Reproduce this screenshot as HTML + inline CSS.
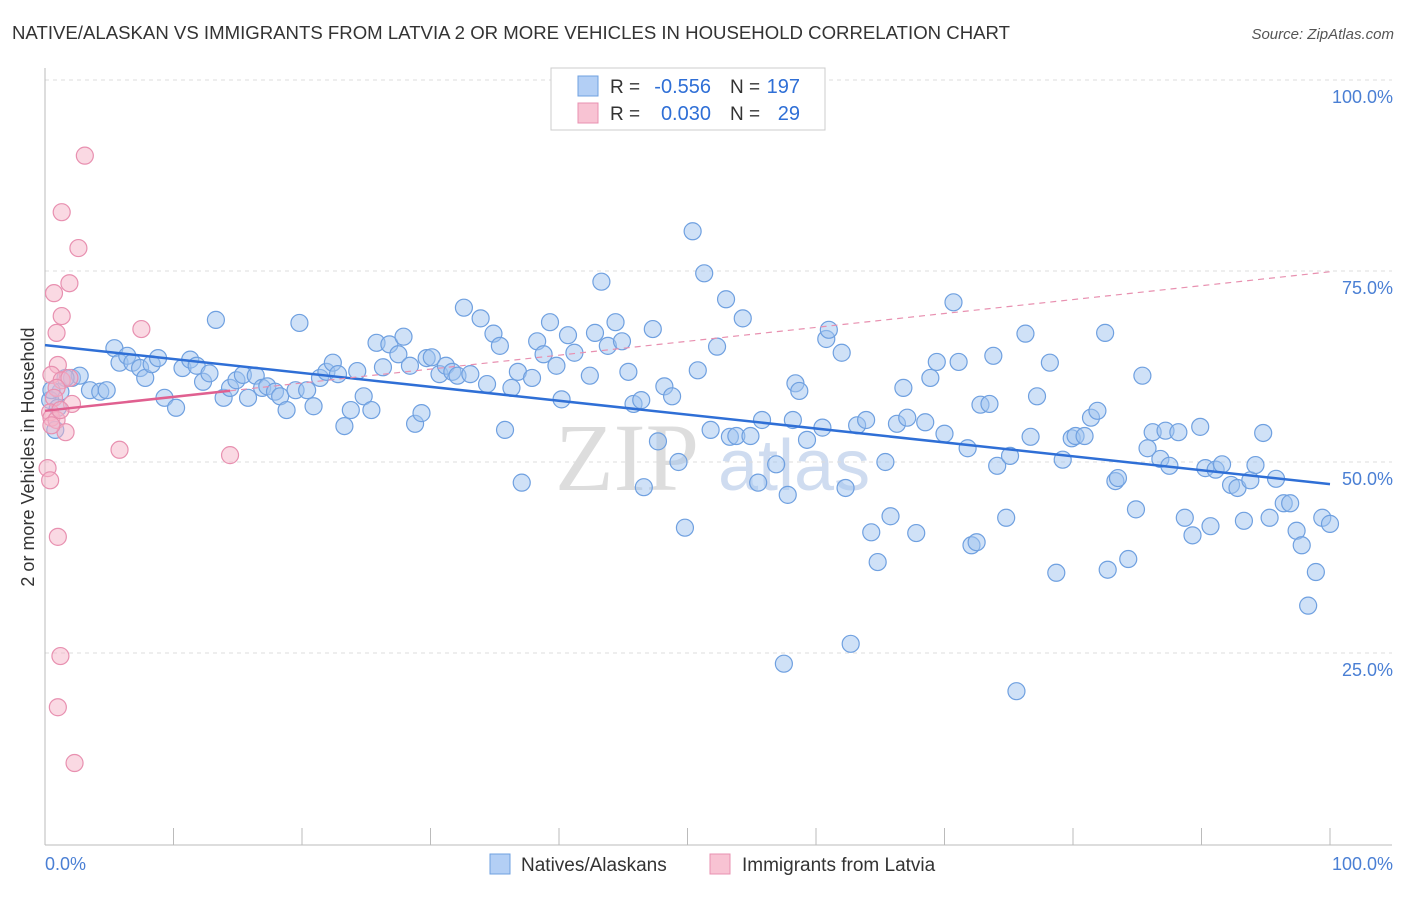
<!DOCTYPE html>
<html><head><meta charset="utf-8"><style>
body{margin:0;background:#fff;font-family:"Liberation Sans",sans-serif;}
</style></head><body>
<svg width="1406" height="892" xmlns="http://www.w3.org/2000/svg" font-family="Liberation Sans, sans-serif">
<text x="12" y="39" font-size="18" fill="#333" textLength="998" lengthAdjust="spacingAndGlyphs">NATIVE/ALASKAN VS IMMIGRANTS FROM LATVIA 2 OR MORE VEHICLES IN HOUSEHOLD CORRELATION CHART</text>
<text x="1394" y="39" font-size="15" fill="#555" text-anchor="end" font-style="italic">Source: ZipAtlas.com</text>
<g><text x="555" y="490" font-size="96" fill="#ddd" font-family="Liberation Serif, serif">ZIP</text><text x="718" y="490" font-size="72" fill="#cfdcf0">atlas</text></g>
<g id="grid"></g>
<g id="axes"></g>
<g id="pts"></g>
<g id="trend"></g>
<text transform="translate(34,457) rotate(-90)" font-size="18" fill="#333" text-anchor="middle">2 or more Vehicles in Household</text>
<text x="45" y="870" font-size="18" fill="#4a7fd4">0.0%</text>
<text x="1393" y="870" font-size="18" fill="#4a7fd4" text-anchor="end">100.0%</text>
<g>
<rect x="551" y="68" width="274" height="62" fill="#fff" stroke="#ccc"/>
<rect x="578" y="76" width="20" height="20" fill="#b3cff5" stroke="#6fa0e0"/>
<rect x="578" y="103" width="20" height="20" fill="#f8c3d3" stroke="#e890b0"/>
<text x="610" y="93" font-size="19" fill="#333">R =</text>
<text x="711" y="93" font-size="20" fill="#2f6fd6" text-anchor="end">-0.556</text>
<text x="730" y="93" font-size="19" fill="#333">N =</text>
<text x="800" y="93" font-size="20" fill="#2f6fd6" text-anchor="end">197</text>
<text x="610" y="120" font-size="19" fill="#333">R =</text>
<text x="711" y="120" font-size="20" fill="#2f6fd6" text-anchor="end">0.030</text>
<text x="730" y="120" font-size="19" fill="#333">N =</text>
<text x="800" y="120" font-size="20" fill="#2f6fd6" text-anchor="end">29</text>
</g>
<g>
<rect x="490" y="854" width="20" height="20" fill="#b3cff5" stroke="#6fa0e0"/>
<text x="521" y="871" font-size="19" fill="#333">Natives/Alaskans</text>
<rect x="710" y="854" width="20" height="20" fill="#f8c3d3" stroke="#e890b0"/>
<text x="742" y="871" font-size="19" fill="#333">Immigrants from Latvia</text>
</g>
</svg>
<script>
const blueX=[0.8,1.2,2.1,2.7,3.5,4.3,4.8,5.4,5.8,6.4,6.8,7.4,7.8,8.3,8.8,9.3,10.2,10.7,11.3,11.8,12.3,12.8,13.3,13.9,14.4,14.9,15.4,15.8,16.4,16.9,17.3,17.9,18.3,18.8,19.5,19.8,20.4,20.9,21.4,21.9,22.4,22.8,23.3,23.8,24.3,24.8,25.4,25.8,26.3,26.8,27.5,27.9,28.4,28.8,29.3,29.7,30.1,30.7,31.2,31.7,32.1,32.6,33.1,33.9,34.4,34.9,35.4,35.8,36.3,36.8,37.1,37.9,38.3,38.8,39.3,39.8,40.2,40.7,41.2,42.4,42.8,43.3,43.8,44.4,44.9,45.4,45.8,46.4,46.6,47.3,47.7,48.2,48.8,49.3,49.8,50.4,50.8,51.3,51.8,52.3,53.0,53.3,53.8,54.3,54.9,55.5,55.8,56.9,57.5,57.8,58.2,58.4,58.7,59.3,60.5,60.8,61.0,62.0,62.3,62.7,63.2,63.9,64.3,64.8,65.4,65.8,66.3,66.8,67.1,67.8,68.5,68.9,69.4,70.0,70.7,71.1,71.8,72.1,72.5,72.8,73.5,73.8,74.1,74.8,75.1,75.6,76.3,76.7,77.2,78.2,78.7,79.2,79.9,80.2,80.9,81.4,81.9,82.5,82.7,83.3,83.5,84.3,84.9,85.4,85.8,86.2,86.8,87.2,87.5,88.2,88.7,89.3,89.9,90.3,90.7,91.1,91.6,92.3,92.8,93.3,93.8,94.2,94.8,95.3,95.8,96.4,96.9,97.4,97.8,98.3,98.9,99.4,100,0.4,0.5,1.0,1.6];
const blueY=[54.2,59.2,61.0,61.3,59.4,59.2,59.4,64.9,63.0,63.9,63.0,62.3,61.0,62.8,63.6,58.4,57.1,62.3,63.4,62.6,60.5,61.6,68.6,58.4,59.7,60.7,61.4,58.4,61.3,59.7,59.9,59.2,58.6,56.8,59.4,68.2,59.4,57.3,61.0,61.8,63.0,61.5,54.7,56.8,61.9,58.6,56.8,65.6,62.4,65.4,64.1,66.4,62.6,55.0,56.4,63.6,63.7,61.5,62.6,61.8,61.3,70.2,61.5,68.8,60.2,66.8,65.2,54.2,59.7,61.8,47.3,61.0,65.8,64.1,68.3,62.6,58.2,66.6,64.3,61.3,66.9,73.6,65.2,68.3,65.8,61.8,57.6,58.1,46.7,67.4,52.7,59.9,58.6,50.0,41.4,80.2,62.0,74.7,54.2,65.1,71.3,53.3,53.4,68.8,53.4,47.3,55.5,49.7,23.6,45.7,55.5,60.3,59.3,52.9,54.5,66.1,67.3,64.3,46.6,26.2,54.8,55.5,40.8,36.9,50.0,42.9,55.0,59.7,55.8,40.7,55.2,61.0,63.1,53.7,70.9,63.1,51.8,39.1,39.5,57.5,57.6,63.9,49.5,42.7,50.8,20.0,66.8,53.3,58.6,63.0,35.5,50.3,53.1,53.4,53.4,55.8,56.7,66.9,35.9,47.5,47.9,37.3,43.8,61.3,51.8,53.9,50.4,54.1,49.5,53.9,42.7,40.4,54.6,49.2,41.6,49.0,49.7,47.0,46.6,42.3,47.6,49.6,53.8,42.7,47.8,44.6,44.6,41.0,39.1,31.2,35.6,42.7,41.9,58.1,59.4,57.1,61.0];
const pinkX=[3.1,1.3,2.6,1.9,0.7,1.3,0.9,7.5,1.0,0.5,1.3,1.9,0.9,0.7,2.1,0.4,0.5,0.9,1.6,5.8,14.4,0.2,0.4,1.0,1.2,1.0,2.3,0.5,1.2];
const pinkY=[90.1,82.7,78.0,73.4,72.1,69.1,66.9,67.4,62.7,61.4,60.7,61.0,59.7,58.4,57.6,56.5,55.8,55.5,53.9,51.6,50.9,49.2,47.6,40.2,24.6,17.9,10.6,54.8,56.8];
const blueTrend=[65.3,47.1];
const pinkTrend=[56.7,74.9];
const yTicks=[100,75,50,25];
const yTickLabels=["100.0%","75.0%","50.0%","25.0%"];
const xTicks=[0,10,20,30,40,50,60,70,80,90,100];
const NS="http://www.w3.org/2000/svg";
const sx=v=>45+v*12.85;
const sy=v=>462-(v-50)*7.64;
function mk(t,a,p){const e=document.createElementNS(NS,t);for(const k in a)e.setAttribute(k,a[k]);p.appendChild(e);return e;}
const grid=document.getElementById('grid'),axes=document.getElementById('axes'),pts=document.getElementById('pts'),trend=document.getElementById('trend');
yTicks.forEach((v,i)=>{
  const l=mk('line',{x1:45,x2:1392,y1:sy(v),y2:sy(v),stroke:'#ddd','stroke-dasharray':'4,4'},grid);
  
  
  const t=mk('text',{x:1393,y:sy(v)+23,'font-size':18,fill:'#4a7fd4','text-anchor':'end'},axes);
  t.textContent=yTickLabels[i];
  
  
});
const ax=mk('line',{x1:45,x2:1392,y1:845,y2:845,stroke:'#bbb'},axes);


const ay=mk('line',{x1:45,x2:45,y1:68,y2:845,stroke:'#bbb'},axes);


xTicks.forEach(v=>{
  const t=mk('line',{x1:sx(v),x2:sx(v),y1:828,y2:845,stroke:'#bbb'},axes);
  
  
});
blueX.forEach((x,i)=>{
  const c=mk('circle',{cx:sx(x),cy:sy(blueY[i]),r:8.5,fill:'rgba(160,196,240,0.5)',stroke:'#6fa0e0','stroke-width':1.2},pts);
  
  
});
pinkX.forEach((x,i)=>{
  const c=mk('circle',{cx:sx(x),cy:sy(pinkY[i]),r:8.5,fill:'rgba(245,180,200,0.5)',stroke:'#e890b0','stroke-width':1.2},pts);
  
  
});
const bt=mk('line',{x1:sx(0),y1:sy(blueTrend[0]),x2:sx(100),y2:sy(blueTrend[1]),stroke:'#2f6fd6','stroke-width':2.5},trend);


const pv=x=>pinkTrend[0]+(pinkTrend[1]-pinkTrend[0])*x/100;
const pd=mk('line',{x1:sx(14.4),y1:sy(pv(14.4)),x2:sx(100),y2:sy(pv(100)),stroke:'#e890b0','stroke-width':1.2,'stroke-dasharray':'6,5'},trend);


const ps=mk('line',{x1:sx(0),y1:sy(pv(0)),x2:sx(14.4),y2:sy(pv(14.4)),stroke:'#e06090','stroke-width':2.5},trend);


</script>
</body></html>
